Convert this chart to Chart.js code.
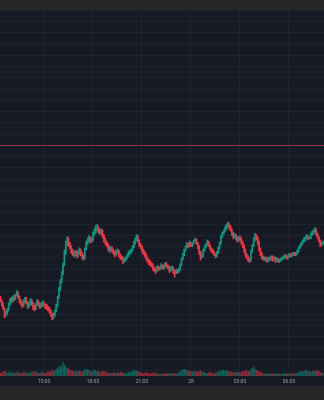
<!DOCTYPE html>
<html><head><meta charset="utf-8">
<script src="https://cdn.jsdelivr.net/npm/chart.js@4.4.1/dist/chart.umd.min.js"></script>
<style>
html,body{margin:0;padding:0;background:#272727;width:324px;height:400px;overflow:hidden}
#wrap{position:absolute;left:0;top:10px;width:324px;height:376px;background:#161a25}
canvas{display:block}
</style></head><body>
<div id="wrap"><canvas id="c" width="324" height="376"></canvas></div>
<script>
// 5-minute candles, first candle at 12:20 (minutes relative to 15:00)
const opens=[
354,352,349,345,340,341,344,349,353,352,
355,354,357,359,355,352,350,348,351,354,
350,347,349,352,350,346,345,349,351,348,
347,349,350,348,347,346,344,343,340,337,
339,343,348,355,362,370,376,384,395,403,
406,403,400,396,393,394,395,392,395,397,
394,391,390,398,403,406,408,405,406,411,
414,416,417,414,413,414,410,406,404,402,
399,397,399,397,395,393,395,396,393,391,
390,387,388,390,392,394,395,397,400,403,
406,409,405,402,400,397,395,393,390,388,
386,385,384,381,380,379,382,380,381,383,
381,382,385,383,382,379,380,381,378,377,
379,378,380,384,389,393,397,400,402,401,
403,401,403,405,406,403,400,395,391,392,
397,400,402,404,401,398,397,395,393,392,
395,399,403,409,412,414,416,418,420,418,
415,412,409,410,408,406,408,407,404,401,
397,393,391,389,388,396,401,406,410,408,
404,398,394,391,389,390,389,388,390,389,
391,389,390,388,389,387,388,389,390,391,
392,390,391,393,392,393,394,393,394,396,
399,401,403,405,406,408,409,408,408,411,
412,414,415,411,408,405,402,403];
const highs=[
356,353,350,346,343,345,350,354,355,356,
357,358,361,360,356,353,351,353,355,355,
351,351,354,353,351,348,350,353,352,350,
350,352,351,349,349,347,346,344,341,341,
344,349,356,364,371,378,386,397,405,409,
408,404,401,398,396,397,396,397,399,398,
395,393,399,405,408,410,409,408,413,416,
419,420,418,416,416,415,411,408,405,403,
401,400,400,398,396,397,398,397,394,392,
391,390,391,393,396,397,398,401,405,408,
411,410,406,403,401,398,396,394,391,389,
388,386,385,382,381,383,383,382,385,384,
384,386,386,384,383,382,383,382,379,380,
380,381,385,390,394,398,401,404,403,405,
404,404,406,408,407,404,401,396,394,398,
401,403,406,405,402,399,398,396,394,396,
400,404,410,413,415,418,420,422,421,419,
416,413,412,411,409,409,410,408,405,402,
398,394,392,390,397,402,408,412,411,409,
405,399,395,392,391,391,390,391,391,392,
392,391,391,390,390,389,390,391,392,393,
393,392,394,394,394,395,395,395,397,400,
402,404,406,408,409,411,410,409,412,414,
415,417,416,412,409,406,404,405];
const lows=[
351,347,344,337,338,340,343,348,350,351,
352,353,356,354,350,348,346,347,350,349,
345,346,348,348,344,343,344,348,347,345,
346,347,347,345,344,343,341,338,335,336,
338,342,347,354,361,368,375,383,393,401,
400,398,394,392,391,392,390,391,393,392,
389,388,389,397,402,404,403,404,405,410,
412,414,412,411,411,408,404,402,400,397,
395,396,395,393,391,392,394,391,389,388,
385,386,387,389,391,393,394,396,399,402,
405,404,400,398,395,393,391,388,386,384,
383,382,379,378,376,378,379,379,380,380,
380,381,382,380,377,378,379,376,373,376,
376,377,379,383,388,392,396,399,399,400,
400,400,402,404,402,398,393,388,390,391,
396,399,401,400,397,395,394,392,390,391,
394,398,402,408,411,413,415,417,416,414,
410,407,408,406,404,405,405,402,399,395,
391,389,387,386,387,395,400,405,406,402,
396,392,389,388,388,387,386,387,388,388,
387,388,386,387,386,386,387,388,389,390,
389,389,390,391,391,392,392,392,393,395,
398,400,402,404,405,407,406,407,407,410,
411,413,410,407,404,400,401,402];
const closes=[
352,349,345,340,341,344,349,353,352,355,
354,357,359,355,352,350,348,351,354,350,
347,349,352,350,346,345,349,351,348,347,
349,350,348,347,346,344,343,340,337,339,
343,348,355,362,370,376,384,395,403,406,
403,400,396,393,394,395,392,395,397,394,
391,390,398,403,406,408,405,406,411,414,
416,417,414,413,414,410,406,404,402,399,
397,399,397,395,393,395,396,393,391,390,
387,388,390,392,394,395,397,400,403,406,
409,405,402,400,397,395,393,390,388,386,
385,384,381,380,379,382,380,381,383,381,
382,385,383,382,379,380,381,378,377,379,
378,380,384,389,393,397,400,402,401,403,
401,403,405,406,403,400,395,391,392,397,
400,402,404,401,398,397,395,393,392,395,
399,403,409,412,414,416,418,420,418,415,
412,409,410,408,406,408,407,404,401,397,
393,391,389,388,396,401,406,410,408,404,
398,394,391,389,390,389,388,390,389,391,
389,390,388,389,387,388,389,390,391,392,
390,391,393,392,393,394,393,394,396,399,
401,403,405,406,408,409,408,408,411,412,
414,415,411,408,405,402,403,404];
const volumes=[
18,22,25,30,28,20,24,26,19,22,
21,18,26,24,20,17,19,22,25,18,
16,20,23,21,27,24,30,22,19,18,
21,25,20,18,24,28,26,32,35,30,
34,42,48,55,60,62,85,70,58,50,
45,38,36,30,28,32,26,30,34,28,
25,30,44,40,38,36,30,26,34,38,
36,30,28,24,26,30,28,24,22,20,
18,20,16,22,19,17,20,18,22,24,
20,18,17,19,22,24,26,30,32,36,
34,30,26,22,20,18,20,22,18,16,
15,17,20,18,22,16,14,12,15,17,
14,16,18,15,17,20,16,14,18,15,
17,20,28,34,38,42,40,36,32,30,
28,26,30,32,28,26,30,34,28,24,
22,20,18,22,24,20,18,16,20,22,
26,30,34,38,36,32,34,30,28,26,
24,22,20,24,26,22,20,24,28,30,
34,32,30,28,40,48,56,44,36,32,
28,24,20,18,16,15,14,16,15,14,
13,15,14,16,15,14,13,15,16,18,
16,14,15,17,16,18,15,17,20,24,
26,28,24,30,34,36,30,28,26,32,
30,28,36,32,28,24,20,18];
const tickMinutes=[0,180,360,540,720,900];
const tickLabels=["15:00","18:00","21:00","28","03:00","06:00"];
const firstCandleMinute=-160, candleMinutes=5;
const viewStartMinute=-161.6, viewEndMinute=1028.6;
const priceMin=285.1, priceMax=610.4, gridStep=10;
const alertLevel=490;
const volumeMax=2200;

const times=closes.map((_,i)=>firstCandleMinute+i*candleMinutes);
const UP='#089981', DOWN='#f23645';
const UPV='rgba(8,153,129,0.6)', DOWNV='rgba(242,54,69,0.6)';
const isUp=closes.map((c,i)=>c>=opens[i]);
const GRID='#1f232e';

new Chart(document.getElementById('c'),{
  type:'bar',
  data:{datasets:[
    {type:'line',data:[{x:viewStartMinute,y:alertLevel},{x:viewEndMinute,y:alertLevel}],
     borderColor:'#9c3340',borderWidth:1,pointRadius:0,yAxisID:'y',order:0},
    {data:times.map((t,i)=>({x:t,y:[lows[i],highs[i]]})),
     backgroundColor:isUp.map(u=>u?UP:DOWN),barThickness:1,grouped:false,yAxisID:'y',order:2},
    {data:times.map((t,i)=>({x:t,y:[opens[i],closes[i]]})),
     backgroundColor:isUp.map(u=>u?UP:DOWN),barPercentage:1,categoryPercentage:0.85,minBarLength:1,grouped:false,yAxisID:'y',order:1},
    {data:times.map((t,i)=>({x:t,y:volumes[i]})),
     backgroundColor:isUp.map(u=>u?UPV:DOWNV),barPercentage:1,categoryPercentage:0.9,grouped:false,yAxisID:'y1',order:3}
  ]},
  options:{
    responsive:false,animation:false,devicePixelRatio:1,
    layout:{padding:0},
    plugins:{legend:{display:false},tooltip:{enabled:false}},
    scales:{
      x:{type:'linear',min:viewStartMinute,max:viewEndMinute,offset:false,
         afterBuildTicks:s=>{s.ticks=tickMinutes.map(v=>({value:v}));},
         ticks:{autoSkip:false,maxRotation:0,padding:3,color:'#9a9da6',
                font:{size:5,family:'Roboto'},callback:(v,i)=>tickLabels[i]},
         grid:{color:GRID,drawTicks:false,offset:false},border:{display:false},
         afterFit:s=>{s.height=10;}},
      y:{type:'linear',position:'right',min:priceMin,max:priceMax,
         ticks:{display:false,stepSize:gridStep,includeBounds:false},
         grid:{color:GRID,drawTicks:false},border:{display:false},
         afterFit:s=>{s.width=0;}},
      y1:{type:'linear',display:false,min:0,max:volumeMax}
    }
  }
});
</script>
</body></html>
